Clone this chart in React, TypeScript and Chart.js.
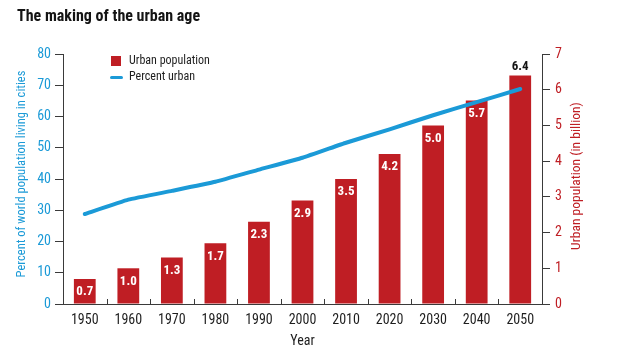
import React, { useEffect, useRef } from 'react';
import { Chart, registerables } from 'chart.js';

Chart.register(...registerables);

const chartTitle = 'The making of the urban age';
const years = ['1950', '1960', '1970', '1980', '1990', '2000', '2010', '2020', '2030', '2040', '2050'];
const urbanPopulation = [0.7, 1.0, 1.3, 1.7, 2.3, 2.9, 3.5, 4.2, 5.0, 5.7, 6.4];
const percentUrban = [28.8, 33.4, 36.2, 39.1, 43.0, 46.8, 51.6, 55.9, 60.4, 64.6, 68.8];
const leftAxisTitle = 'Percent of world population living in cities';
const rightAxisTitle = 'Urban population (in billion)';
const xAxisTitle = 'Year';
const barLabel = 'Urban population';
const lineLabel = 'Percent urban';

const FONT = "'Roboto Condensed', 'DejaVu Sans Condensed', sans-serif";
const RED = '#bf1e24';
const BLUE = '#1b9ad7';
const AXIS = '#3a3a3a';

const overlay = {
  id: 'overlay',
  afterDraw(chart: any) {
    const ctx = chart.ctx;
    const area = chart.chartArea;
    const xs = chart.scales.x;
    ctx.save();

    // title
    ctx.fillStyle = '#141414';
    ctx.font = `bold 16px ${FONT}`;
    ctx.textAlign = 'left';
    ctx.textBaseline = 'middle';
    ctx.fillText(chartTitle, 17, 17);

    // inward x ticks between categories
    ctx.strokeStyle = AXIS;
    ctx.lineWidth = 1;
    for (let i = 1; i < years.length; i++) {
      const x = Math.round(xs.getPixelForValue(i - 0.5)) + 0.5;
      ctx.beginPath();
      ctx.moveTo(x, area.bottom);
      ctx.lineTo(x, area.bottom - 5);
      ctx.stroke();
    }

    // axis titles
    ctx.textAlign = 'center';
    ctx.textBaseline = 'middle';
    ctx.font = `12.5px ${FONT}`;
    ctx.fillStyle = BLUE;
    ctx.save();
    ctx.translate(22, 174);
    ctx.rotate(-Math.PI / 2);
    ctx.fillText(leftAxisTitle, 0, 0);
    ctx.restore();
    ctx.font = `13.5px ${FONT}`;
    ctx.fillStyle = RED;
    ctx.save();
    ctx.translate(577, 176);
    ctx.rotate(-Math.PI / 2);
    ctx.fillText(rightAxisTitle, 0, 0);
    ctx.restore();

    // bar value labels
    const meta = chart.getDatasetMeta(1);
    ctx.font = `bold 13px ${FONT}`;
    ctx.textAlign = 'center';
    ctx.textBaseline = 'middle';
    meta.data.forEach((bar: any, i: number) => {
      const v = urbanPopulation[i];
      const txt = v.toFixed(1);
      if (i === urbanPopulation.length - 1) {
        ctx.fillStyle = '#141414';
        ctx.fillText(txt, bar.x, bar.y - 9);
      } else {
        ctx.fillStyle = '#ffffff';
        ctx.fillText(txt, bar.x, bar.y + 13);
      }
    });

    // legend
    ctx.fillStyle = RED;
    ctx.fillRect(111, 56, 10, 10);
    ctx.strokeStyle = BLUE;
    ctx.lineWidth = 3;
    ctx.lineCap = 'round';
    ctx.beginPath();
    ctx.moveTo(111.5, 77.5);
    ctx.lineTo(121.5, 77.5);
    ctx.stroke();
    ctx.fillStyle = '#1e1e1e';
    ctx.font = `12px ${FONT}`;
    ctx.textAlign = 'left';
    ctx.fillText(barLabel, 129, 61);
    ctx.fillText(lineLabel, 129, 77);

    ctx.restore();
  },
};

export default function App() {
  const ref = useRef<HTMLCanvasElement>(null);
  useEffect(() => {
    if (!ref.current) return;
    const chart = new Chart(ref.current, {
      type: 'bar',
      data: {
        labels: years,
        datasets: [
          {
            type: 'line',
            label: lineLabel,
            data: percentUrban,
            yAxisID: 'y',
            borderColor: BLUE,
            backgroundColor: BLUE,
            borderWidth: 4,
            pointRadius: 0,
            tension: 0.1,
            borderCapStyle: 'round',
            order: 0,
          } as any,
          {
            type: 'bar',
            label: barLabel,
            data: urbanPopulation,
            yAxisID: 'y1',
            backgroundColor: RED,
            categoryPercentage: 1,
            barPercentage: 0.5,
            order: 1,
          },
        ],
      },
      options: {
        animation: false,
        responsive: false,
        maintainAspectRatio: false,
        layout: { padding: { top: 54, left: 0, right: 0, bottom: 0 } },
        plugins: {
          legend: { display: false },
          tooltip: { enabled: false },
          title: { display: false },
        },
        scales: {
          x: {
            type: 'category',
            position: 'bottom',
            grid: { display: false, drawTicks: false },
            border: { display: true, color: AXIS, width: 1 },
            ticks: { color: '#1e1e1e', font: { family: FONT, size: 14 }, padding: 8, maxRotation: 0, autoSkip: false },
            title: { display: true, text: xAxisTitle, color: '#1e1e1e', font: { family: FONT, size: 14 }, padding: { top: 0, bottom: 10 } },
            afterFit: (s: any) => { s.height = 56; },
          },
          y: {
            position: 'left',
            min: 0,
            max: 80,
            ticks: { stepSize: 10, color: BLUE, font: { family: FONT, size: 14 }, padding: 4 },
            grid: { drawOnChartArea: false, tickLength: 8, color: AXIS },
            border: { display: true, color: AXIS, width: 1 },
            afterFit: (s: any) => { s.width = 63; },
          },
          y1: {
            position: 'right',
            min: 0,
            max: 7,
            ticks: { stepSize: 1, color: RED, font: { family: FONT, size: 14 }, padding: 5 },
            grid: { drawOnChartArea: false, tickLength: 8, color: AXIS },
            border: { display: true, color: AXIS, width: 1 },
            afterFit: (s: any) => { s.width = 78; },
          },
        },
      },
      plugins: [overlay],
    });
    return () => chart.destroy();
  }, []);
  return (
    <div style={{ position: 'fixed', left: 0, top: 0, width: 620, height: 360, background: '#fff' }}>
      <canvas ref={ref} width={620} height={360} style={{ width: 620, height: 360 }} />
    </div>
  );
}
